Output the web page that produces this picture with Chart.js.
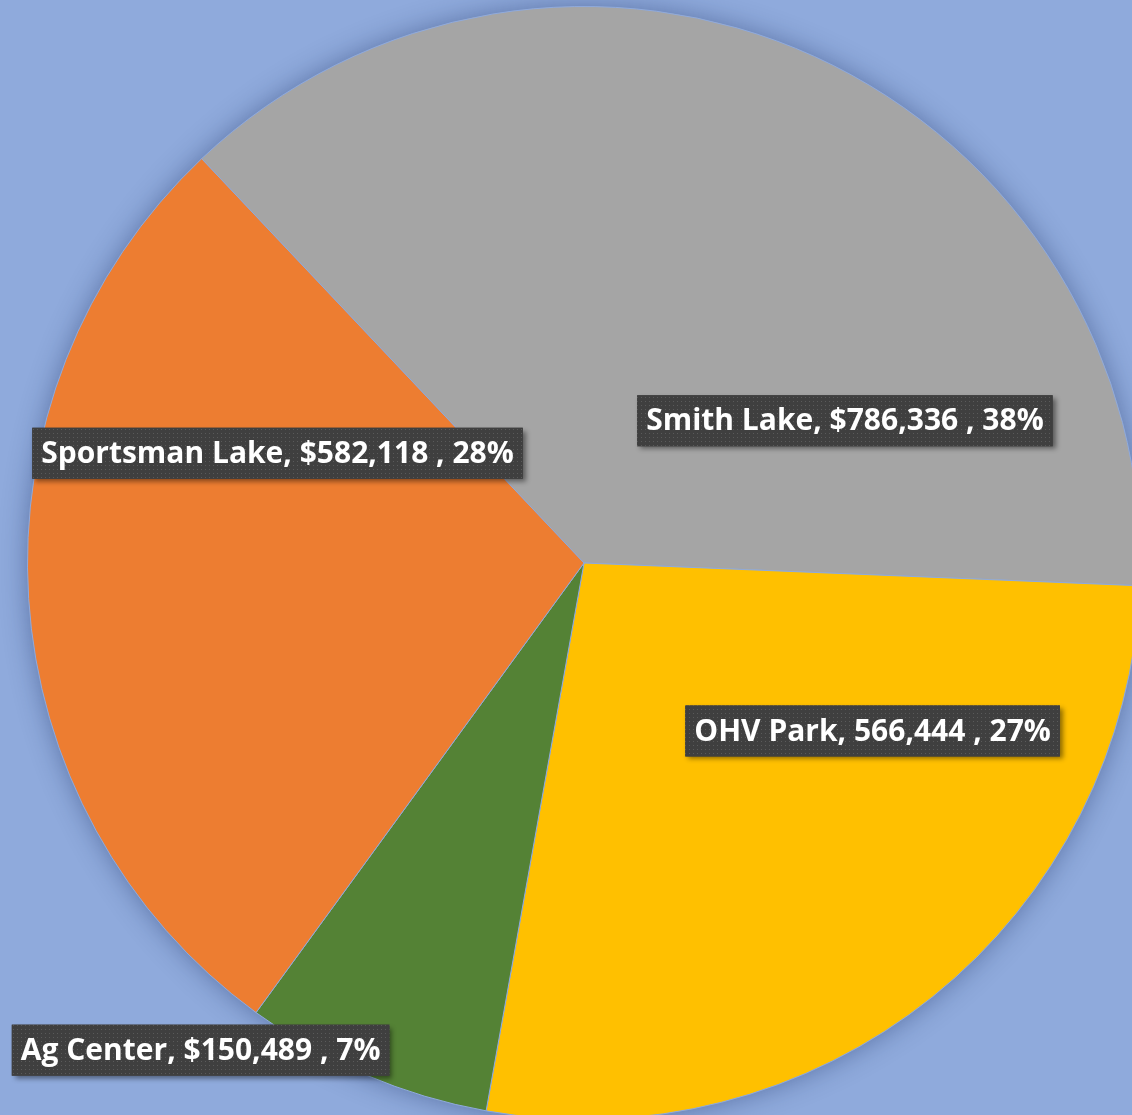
<!DOCTYPE html>
<html>
<head>
<meta charset="utf-8">
<script src="https://cdn.jsdelivr.net/npm/chart.js@4"></script>
<style>
  html, body { margin:0; padding:0; background:#8FAADC; overflow:hidden; width:1132px; height:1115px; }
  #wrap { position:absolute; left:0; top:0; width:1168px; height:1126px; }
</style>
</head>
<body>
<div id="wrap"><canvas id="pie"></canvas></div>
<script>
// data
let categories = ["Smith Lake", "OHV Park", "Ag Center", "Sportsman Lake"];
let amounts = [786336, 566444, 150489, 582118];
let dollarSign = [true, false, true, true];
let colors = ["#A5A5A5", "#FFC000", "#548235", "#ED7D31"];

// where each label box sits: angle from top (deg, clockwise) and distance as share of radius
let labelAngle = [61.4, 120.2, 218.2, -70.3];
let labelDist = [0.534, 0.600, 1.114, 0.585];

let total = amounts.reduce(function(a, b){ return a + b; }, 0);

function labelText(i) {
    let v = amounts[i].toLocaleString("en-US");
    let pct = Math.round(amounts[i] / total * 100);
    return categories[i] + ", " + (dollarSign[i] ? "$" : "") + v + " , " + pct + "%";
}

// dotted fill for label boxes
let tile = document.createElement("canvas");
tile.width = 4; tile.height = 4;
let tctx = tile.getContext("2d");
tctx.fillStyle = "#3F3F3F";
tctx.fillRect(0, 0, 4, 4);
tctx.fillStyle = "#5A5A5A";
tctx.fillRect(1, 1, 1, 1);

let pieShadow = {
    id: "pieShadow",
    beforeDatasetsDraw: function(chart) {
        let arc = chart.getDatasetMeta(0).data[0];
        if (!arc) return;
        let ctx = chart.ctx;
        ctx.save();
        ctx.shadowColor = "rgba(20,40,90,0.45)";
        ctx.shadowBlur = 28;
        ctx.fillStyle = "#A5A5A5";
        ctx.beginPath();
        ctx.arc(arc.x, arc.y, arc.outerRadius - 1, 0, Math.PI * 2);
        ctx.fill();
        ctx.restore();
    }
};

let boxLabels = {
    id: "boxLabels",
    afterDatasetsDraw: function(chart) {
        let meta = chart.getDatasetMeta(0);
        let arc = meta.data[0];
        let ctx = chart.ctx;
        let pattern = ctx.createPattern(tile, "repeat");
        ctx.save();
        ctx.font = "bold 30px 'Open Sans', 'Liberation Sans', sans-serif";
        ctx.textBaseline = "middle";
        ctx.textAlign = "left";
        for (let i = 0; i < categories.length; i++) {
            let a = labelAngle[i] * Math.PI / 180;
            let r = labelDist[i] * arc.outerRadius;
            let cx = arc.x + Math.sin(a) * r;
            let cy = arc.y - Math.cos(a) * r;
            let txt = labelText(i);
            let w = ctx.measureText(txt).width;
            let bw = w + 18, bh = 51;
            let x0 = cx - bw / 2, y0 = cy - bh / 2;
            ctx.save();
            ctx.shadowColor = "rgba(0,0,0,0.45)";
            ctx.shadowBlur = 5;
            ctx.shadowOffsetX = 3;
            ctx.shadowOffsetY = 3;
            ctx.fillStyle = "#404040";
            ctx.fillRect(x0, y0, bw, bh);
            ctx.restore();
            ctx.fillStyle = pattern;
            ctx.fillRect(x0, y0, bw, bh);
            ctx.fillStyle = "#FFFFFF";
            ctx.fillText(txt, x0 + 9, cy + 1);
        }
        ctx.restore();
    }
};

let pieChart = new Chart(document.getElementById("pie"), {
    type: "pie",
    data: {
        labels: categories,
        datasets: [{
            data: amounts,
            backgroundColor: colors,
            borderColor: "#8FAADC",
            borderWidth: 1
        }]
    },
    options: {
        responsive: true,
        maintainAspectRatio: false,
        animation: false,
        rotation: -43.4,
        layout: { padding: { left: 27, top: 6, right: 27, bottom: 6 } },
        plugins: {
            legend: { display: false },
            tooltip: { enabled: false }
        }
    },
    plugins: [pieShadow, boxLabels]
});
</script>
</body>
</html>
